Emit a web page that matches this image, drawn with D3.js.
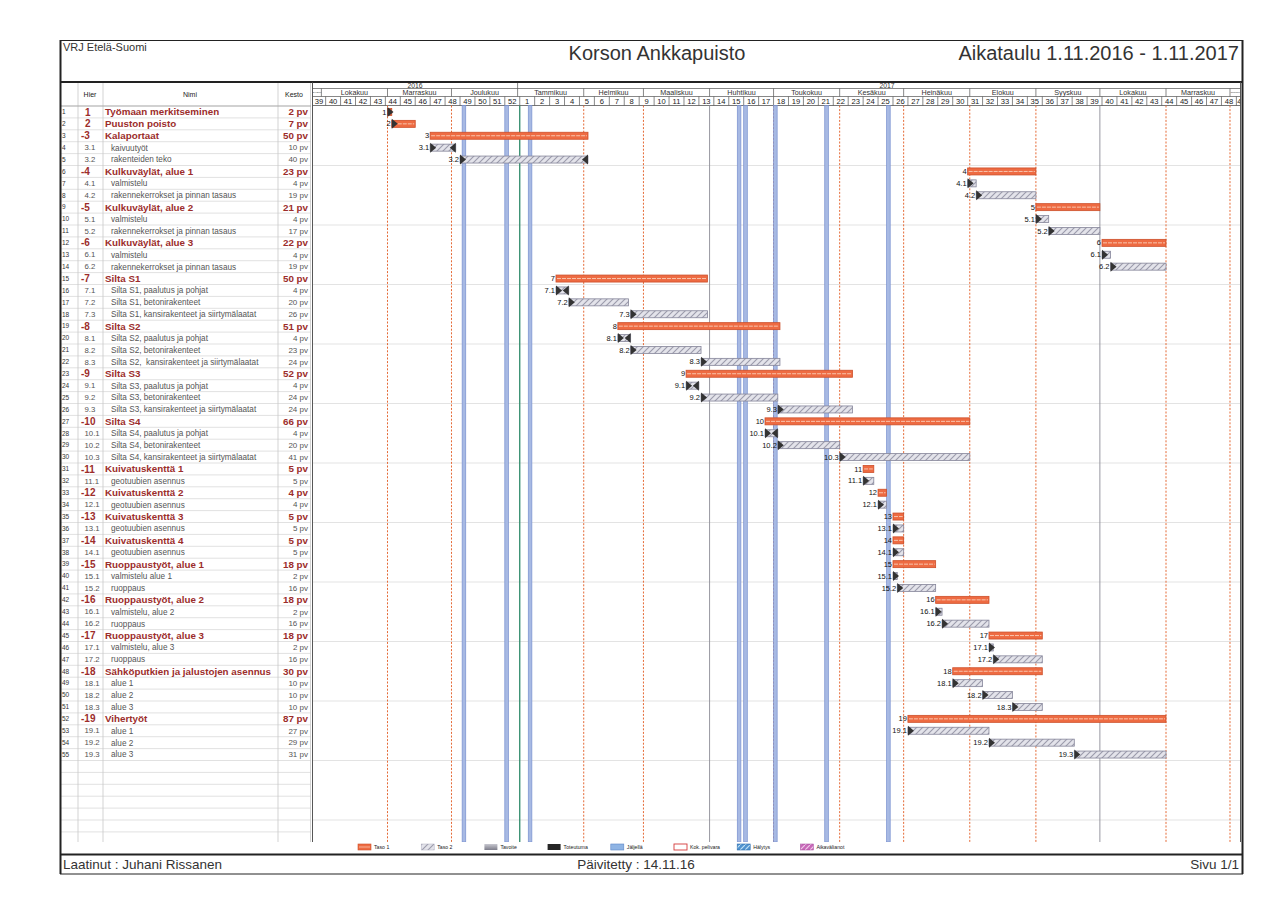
<!DOCTYPE html>
<html><head><meta charset="utf-8">
<script src="https://cdn.jsdelivr.net/npm/d3@7"></script>
<style>body{margin:0;background:#fff;} svg{display:block;font-family:"Liberation Sans",Arial,sans-serif;}</style>
</head><body><svg id="c" width="1281" height="897"></svg>
<script>
// ---------------- DATA ----------------
const rowIds = ["1","2","-3","3.1","3.2","-4","4.1","4.2","-5","5.1","5.2","-6","6.1","6.2","-7","7.1","7.2","7.3","-8","8.1","8.2","8.3","-9","9.1","9.2","9.3","-10","10.1","10.2","10.3","-11","11.1","-12","12.1","-13","13.1","-14","14.1","-15","15.1","15.2","-16","16.1","16.2","-17","17.1","17.2","-18","18.1","18.2","18.3","-19","19.1","19.2","19.3"];
const taskNames = ["Työmaan merkitseminen","Puuston poisto","Kalaportaat","kaivuutyöt","rakenteiden teko","Kulkuväylät, alue 1","valmistelu","rakennekerrokset ja pinnan tasaus","Kulkuväylät, alue 2","valmistelu","rakennekerrokset ja pinnan tasaus","Kulkuväylät, alue 3","valmistelu","rakennekerrokset ja pinnan tasaus","Silta S1","Silta S1, paalutus ja pohjat","Silta S1, betonirakenteet","Silta S1, kansirakenteet ja siirtymälaatat","Silta S2","Silta S2, paalutus ja pohjat","Silta S2, betonirakenteet","Silta S2,  kansirakenteet ja siirtymälaatat","Silta S3","Silta S3, paalutus ja pohjat","Silta S3, betonirakenteet","Silta S3, kansirakenteet ja siirtymälaatat","Silta S4","Silta S4, paalutus ja pohjat","Silta S4, betonirakenteet","Silta S4, kansirakenteet ja siirtymälaatat","Kuivatuskenttä 1","geotuubien asennus","Kuivatuskenttä 2","geotuubien asennus","Kuivatuskenttä 3","geotuubien asennus","Kuivatuskenttä 4","geotuubien asennus","Ruoppaustyöt, alue 1","valmistelu alue 1","ruoppaus","Ruoppaustyöt, alue 2","valmistelu, alue 2","ruoppaus","Ruoppaustyöt, alue 3","valmistelu, alue 3","ruoppaus","Sähköputkien ja jalustojen asennus","alue 1","alue 2","alue 3","Vihertyöt","alue 1","alue 2","alue 3"];
const durations = ["2 pv","7 pv","50 pv","10 pv","40 pv","23 pv","4 pv","19 pv","21 pv","4 pv","17 pv","22 pv","4 pv","19 pv","50 pv","4 pv","20 pv","26 pv","51 pv","4 pv","23 pv","24 pv","52 pv","4 pv","24 pv","24 pv","66 pv","4 pv","20 pv","41 pv","5 pv","5 pv","4 pv","4 pv","5 pv","5 pv","5 pv","5 pv","18 pv","2 pv","16 pv","18 pv","2 pv","16 pv","18 pv","2 pv","16 pv","30 pv","10 pv","10 pv","10 pv","87 pv","27 pv","29 pv","31 pv"];
const startDates = ["2016-11-01","2016-11-03","2016-11-21","2016-11-21","2016-12-05","2017-07-31","2017-07-31","2017-08-04","2017-09-01","2017-09-01","2017-09-07","2017-10-02","2017-10-02","2017-10-06","2017-01-19","2017-01-19","2017-01-25","2017-02-23","2017-02-17","2017-02-17","2017-02-23","2017-03-28","2017-03-21","2017-03-21","2017-03-28","2017-05-03","2017-04-27","2017-04-27","2017-05-03","2017-06-01","2017-06-12","2017-06-12","2017-06-19","2017-06-19","2017-06-26","2017-06-26","2017-06-26","2017-06-26","2017-06-26","2017-06-26","2017-06-28","2017-07-16","2017-07-16","2017-07-19","2017-08-10","2017-08-10","2017-08-12","2017-07-24","2017-07-24","2017-08-07","2017-08-21","2017-07-03","2017-07-03","2017-08-10","2017-09-19"];
const endDates = ["2016-11-03","2016-11-14","2017-02-03","2016-12-03","2017-02-03","2017-09-01","2017-08-04","2017-09-01","2017-10-01","2017-09-07","2017-10-01","2017-11-01","2017-10-06","2017-11-01","2017-03-31","2017-01-25","2017-02-22","2017-03-31","2017-05-04","2017-02-23","2017-03-28","2017-05-04","2017-06-07","2017-03-27","2017-05-03","2017-06-07","2017-08-01","2017-05-03","2017-06-01","2017-08-01","2017-06-17","2017-06-17","2017-06-23","2017-06-23","2017-07-01","2017-07-01","2017-07-01","2017-07-01","2017-07-16","2017-06-28","2017-07-16","2017-08-10","2017-07-19","2017-08-10","2017-09-04","2017-08-12","2017-09-04","2017-09-04","2017-08-07","2017-08-21","2017-09-04","2017-11-01","2017-08-10","2017-09-19","2017-11-01"];
const endMarkers = ["3.1","3.2","7.1","8.1","9.1","10.1"];
const holidays = ["2016-12-06","2016-12-26","2017-01-06","2017-04-14","2017-04-17","2017-05-01","2017-05-25","2017-06-23"];
const orangeLineDates = ["2016-11-01","2016-12-01","2017-02-01","2017-03-01","2017-05-01","2017-06-01","2017-07-01","2017-08-01","2017-09-01","2017-11-01","2017-12-01"];
const grayLineDates = ["2017-04-01","2017-10-01"];
const greenLineDate = "2017-01-02";
const monthNames = ["Tammikuu","Helmikuu","Maaliskuu","Huhtikuu","Toukokuu","Kesäkuu","Heinäkuu","Elokuu","Syyskuu","Lokakuu","Marraskuu","Joulukuu"];
const legendLabels = ["Taso 1","Taso 2","Tavoite","Toteutuma","Jäljellä","Kok. pelivara","Hälytys","Aikavälianot"];
const tableHeaders = ["Hier","Nimi","Kesto"];

// ---------------- LAYOUT ----------------
const W=1281,H=897;
const P = d3.utcParse("%Y-%m-%d");
const x = d3.scaleUtc().domain([P("2016-11-01"), P("2017-11-01")]).range([387.5,1166]);
const gx0=312.5, gx1=1240.5;
const boxL=60, boxR=1243, top0=40, hdrTop=82, rowTop=106, rowH=11.9, gBottom=842, footLine=854.5, bottom=874;
const nRows = Math.floor((gBottom-rowTop)/rowH);
const y = d3.scaleBand().domain(d3.range(nRows)).range([rowTop, rowTop+nRows*rowH]).padding(0);

const svg=d3.select("#c");
svg.append("rect").attr("width",W).attr("height",H).attr("fill","#fff");
const defs=svg.append("defs");
defs.append("clipPath").attr("id","gclip").append("rect").attr("x",gx0).attr("y",hdrTop).attr("width",gx1-gx0).attr("height",gBottom-hdrTop);
const hatch=defs.append("pattern").attr("id","hatch").attr("patternUnits","userSpaceOnUse").attr("width",6).attr("height",6);
hatch.append("rect").attr("width",6).attr("height",6).attr("fill","#e3e3ea");
hatch.append("path").attr("d","M-1,7 L7,-1 M-1,1 L1,-1 M5,7 L7,5").attr("stroke","#9b9bab").attr("stroke-width",1.1);
const hatchB=defs.append("pattern").attr("id","hatchB").attr("patternUnits","userSpaceOnUse").attr("width",5).attr("height",5);
hatchB.append("rect").attr("width",5).attr("height",5).attr("fill","#4f92cf");
hatchB.append("path").attr("d","M-1,6 L6,-1").attr("stroke","#bfe0f5").attr("stroke-width",1.2);
const hatchP=defs.append("pattern").attr("id","hatchP").attr("patternUnits","userSpaceOnUse").attr("width",5).attr("height",5);
hatchP.append("rect").attr("width",5).attr("height",5).attr("fill","#c868b8");
hatchP.append("path").attr("d","M-1,6 L6,-1").attr("stroke","#f0c8ea").attr("stroke-width",1.2);
const gradT=defs.append("linearGradient").attr("id","gradT").attr("x1",0).attr("x2",0).attr("y1",0).attr("y2",1);
gradT.append("stop").attr("offset",0).attr("stop-color","#c8c8d0");
gradT.append("stop").attr("offset",1).attr("stop-color","#7d7d8a");

// ---------------- TITLES ----------------
svg.append("text").attr("x",63).attr("y",51).attr("font-size",11).attr("fill","#333").text("VRJ Etelä-Suomi");
svg.append("text").attr("x",657).attr("y",60).attr("text-anchor","middle").attr("font-size",20).attr("fill","#333").text("Korson Ankkapuisto");
svg.append("text").attr("x",1239).attr("y",60).attr("text-anchor","end").attr("font-size",20).attr("fill","#333").text("Aikataulu 1.11.2016 - 1.11.2017");
svg.append("text").attr("x",63).attr("y",869).attr("font-size",13.5).attr("fill","#333").text("Laatinut : Juhani Rissanen");
svg.append("text").attr("x",636).attr("y",869).attr("text-anchor","middle").attr("font-size",13.5).attr("fill","#333").text("Päivitetty : 14.11.16");
svg.append("text").attr("x",1239).attr("y",869).attr("text-anchor","end").attr("font-size",13.5).attr("fill","#333").text("Sivu 1/1");

// ---------------- TABLE ----------------
const tbl=svg.append("g");
for(let i=0;i<=nRows;i++){
  tbl.append("line").attr("x1",boxL).attr("x2",311).attr("y1",y(0)+i*rowH).attr("y2",y(0)+i*rowH).attr("stroke","#d4d4d4").attr("stroke-width",0.7);
}
[78,103,278,310.5].forEach(cx=>tbl.append("line").attr("x1",cx).attr("x2",cx).attr("y1",hdrTop).attr("y2",gBottom).attr("stroke","#c8c8c8").attr("stroke-width",0.8));
[[90,tableHeaders[0]],[190,tableHeaders[1]],[294,tableHeaders[2]]].forEach(([cx,t])=>tbl.append("text").attr("x",cx).attr("y",97).attr("text-anchor","middle").attr("font-size",7).attr("fill","#222").text(t));
tbl.append("line").attr("x1",boxL).attr("x2",311).attr("y1",rowTop).attr("y2",rowTop).attr("stroke","#999").attr("stroke-width",0.7);

const RED="#9c2d2b";
rowIds.forEach((id,i)=>{
  const lvl1 = !id.includes(".");
  const yc = y(i)+rowH/2;
  tbl.append("text").attr("x",62).attr("y",yc).attr("dy","0.35em").attr("font-size",6.5).attr("fill","#333").text(i+1);
  if(lvl1){
    tbl.append("text").attr("x",id.startsWith("-")?81:85).attr("y",yc).attr("dy","0.36em").attr("font-size",10).attr("font-weight","bold").attr("fill",RED).text(id);
    tbl.append("text").attr("x",105).attr("y",yc).attr("dy","0.36em").attr("font-size",9.8).attr("font-weight","bold").attr("fill",RED).text(taskNames[i]);
    tbl.append("text").attr("x",308).attr("y",yc).attr("dy","0.36em").attr("text-anchor","end").attr("font-size",9.8).attr("font-weight","bold").attr("fill",RED).text(durations[i]);
  } else {
    tbl.append("text").attr("x",84.5).attr("y",yc).attr("dy","0.35em").attr("font-size",7.8).attr("fill","#555").text(id);
    tbl.append("text").attr("x",111).attr("y",yc).attr("dy","0.35em").attr("font-size",8.2).attr("fill","#555").style("white-space","pre").text(taskNames[i]);
    tbl.append("text").attr("x",308).attr("y",yc).attr("dy","0.35em").attr("text-anchor","end").attr("font-size",8).attr("fill","#555").text(durations[i]);
  }
});

// ---------------- GANTT HEADER ----------------
const gh=svg.append("g").attr("clip-path","url(#gclip)");
const yrTop=hdrTop, yrBot=88.5, moBot=96.5, wkBot=105.5;
const dStart=x.invert(gx0), dEnd=x.invert(gx1);
d3.utcYear.range(d3.utcYear.floor(dStart), dEnd).forEach(yv=>{
  const a=Math.max(gx0,x(yv)), b=Math.min(gx1,x(d3.utcYear.offset(yv,1)));
  gh.append("line").attr("x1",a).attr("x2",a).attr("y1",yrTop).attr("y2",yrBot).attr("stroke","#555").attr("stroke-width",0.7);
  gh.append("text").attr("x",(a+b)/2 + (yv.getUTCFullYear()===2017?8:0)).attr("y",yrBot-0.8).attr("text-anchor","middle").attr("font-size",6.8).attr("fill","#333").text(yv.getUTCFullYear());
});
gh.append("line").attr("x1",gx0).attr("x2",gx1).attr("y1",yrBot).attr("y2",yrBot).attr("stroke","#555").attr("stroke-width",0.7);
gh.append("line").attr("x1",gx0).attr("x2",gx1).attr("y1",moBot).attr("y2",moBot).attr("stroke","#555").attr("stroke-width",0.7);
gh.append("line").attr("x1",gx0).attr("x2",gx1).attr("y1",wkBot).attr("y2",wkBot).attr("stroke","#555").attr("stroke-width",0.8);
d3.utcMonth.range(d3.utcMonth.floor(dStart), dEnd).forEach(m=>{
  const a=Math.max(gx0,x(m)), b=Math.min(gx1,x(d3.utcMonth.offset(m,1)));
  if(b<=a) return;
  gh.append("line").attr("x1",x(m)).attr("x2",x(m)).attr("y1",yrBot).attr("y2",moBot).attr("stroke","#555").attr("stroke-width",0.7);
  const name=monthNames[m.getUTCMonth()];
  const w=b-a;
  const fs = w>40 ? 7.2 : Math.max(2.2, w/(name.length*0.55));
  gh.append("text").attr("x",(a+b)/2).attr("y",(yrBot+moBot)/2).attr("dy","0.36em").attr("text-anchor","middle").attr("font-size",fs).attr("fill","#333").text(name);
});
const fmtW=d3.utcFormat("%-V");
d3.utcMonday.range(d3.utcMonday.floor(dStart), dEnd).forEach(wk=>{
  const a=Math.max(gx0,x(wk)), b=Math.min(gx1+6,x(d3.utcMonday.offset(wk,1)));
  gh.append("line").attr("x1",x(wk)).attr("x2",x(wk)).attr("y1",moBot).attr("y2",wkBot).attr("stroke","#555").attr("stroke-width",0.7);
  gh.append("text").attr("x",(a+b)/2).attr("y",(moBot+wkBot)/2).attr("dy","0.36em").attr("text-anchor","middle").attr("font-size",7.6).attr("fill","#222").text(fmtW(wk));
});

// ---------------- GANTT BODY ----------------
const gb=svg.append("g").attr("clip-path","url(#gclip)");
for(let i=5;i<nRows;i+=5){
  gb.append("line").attr("x1",gx0).attr("x2",gx1).attr("y1",y(i)).attr("y2",y(i)).attr("stroke","#dcdcdc").attr("stroke-width",0.8);
}
orangeLineDates.forEach(d=>gb.append("line").attr("x1",x(P(d))).attr("x2",x(P(d))).attr("y1",wkBot).attr("y2",gBottom).attr("stroke","#e56a36").attr("stroke-width",1).attr("stroke-dasharray","2,1.6"));
grayLineDates.forEach(d=>gb.append("line").attr("x1",x(P(d))).attr("x2",x(P(d))).attr("y1",wkBot).attr("y2",gBottom).attr("stroke","#8c8c96").attr("stroke-width",0.9));
holidays.forEach(d=>{
  const a=x(P(d));
  gb.append("rect").attr("x",a).attr("y",wkBot).attr("width",3.6).attr("height",gBottom-wkBot).attr("fill","#a7b9e3").attr("stroke","#7890cf").attr("stroke-width",0.7);
});
gb.append("line").attr("x1",x(P(greenLineDate))).attr("x2",x(P(greenLineDate))).attr("y1",wkBot).attr("y2",gBottom).attr("stroke","#2f8a6a").attr("stroke-width",1.3);

rowIds.forEach((id,i)=>{
  const lvl1=!id.includes(".");
  const parent=id.startsWith("-");
  const x0=x(P(startDates[i])), x1=x(P(endDates[i]));
  const yc=y(i)+rowH/2, bh=7;
  if(lvl1){
    gb.append("rect").attr("x",x0).attr("y",yc-bh/2).attr("width",x1-x0).attr("height",bh).attr("fill","#ee6b42").attr("stroke","#cc4f2a").attr("stroke-width",0.8);
    gb.append("line").attr("x1",x0+1).attr("x2",x1-1).attr("y1",yc).attr("y2",yc).attr("stroke","#f8c4ad").attr("stroke-width",1).attr("stroke-dasharray","4,1");
  } else {
    gb.append("rect").attr("x",x0).attr("y",yc-bh/2).attr("width",x1-x0).attr("height",bh).attr("fill","url(#hatch)").attr("stroke","#85859a").attr("stroke-width",0.8);
  }
  if(!parent){
    gb.append("path").attr("d",`M${x0},${yc-5}L${x0+6},${yc}L${x0},${yc+5}Z`).attr("fill","#333");
  }
  if(endMarkers.includes(id)){
    gb.append("path").attr("d",`M${x1},${yc-5}L${x1-6},${yc}L${x1},${yc+5}Z`).attr("fill","#333");
  }
  gb.append("text").attr("x",x0-1).attr("y",yc).attr("dy","0.35em").attr("text-anchor","end").attr("font-size",7.5).attr("fill","#111").text(id.replace("-",""));
});

// ---------------- LEGEND ----------------
const lg=svg.append("g");
legendLabels.forEach((t,k)=>{
  const lx=358+k*63.2, ly=844;
  const r=lg.append("rect").attr("x",lx).attr("y",ly).attr("width",13).attr("height",6);
  if(k===0){ r.attr("fill","#ee6b42").attr("stroke","#cc4f2a").attr("stroke-width",0.6);
    lg.append("line").attr("x1",lx+1).attr("x2",lx+12).attr("y1",ly+3).attr("y2",ly+3).attr("stroke","#f8c4ad").attr("stroke-width",0.8); }
  else if(k===1) r.attr("fill","url(#hatch)").attr("stroke","#b0b0c0").attr("stroke-width",0.5);
  else if(k===2) r.attr("fill","url(#gradT)");
  else if(k===3) r.attr("fill","#262626");
  else if(k===4) r.attr("fill","#8fb4e4").attr("stroke","#5d86c6").attr("stroke-width",0.6);
  else if(k===5) r.attr("fill","#fff").attr("stroke","#d43a3a").attr("stroke-width",0.9);
  else if(k===6) r.attr("fill","url(#hatchB)").attr("stroke","#2f6fae").attr("stroke-width",0.6);
  else r.attr("fill","url(#hatchP)").attr("stroke","#a0489a").attr("stroke-width",0.5);
  lg.append("text").attr("x",lx+16).attr("y",ly+3).attr("dy","0.35em").attr("font-size",5.2).attr("fill","#222").text(t);
});

// ---------------- FRAME ----------------
const fr=svg.append("g").attr("stroke","#222").attr("fill","none");
fr.append("line").attr("x1",boxL).attr("x2",boxR).attr("y1",top0+0.5).attr("y2",top0+0.5).attr("stroke-width",1);
fr.append("line").attr("x1",boxL).attr("x2",boxR).attr("y1",hdrTop).attr("y2",hdrTop).attr("stroke-width",2);
fr.append("line").attr("x1",boxL).attr("x2",boxR).attr("y1",footLine).attr("y2",footLine).attr("stroke-width",2);
fr.append("line").attr("x1",boxL).attr("x2",boxR).attr("y1",bottom).attr("y2",bottom).attr("stroke-width",1);
fr.append("line").attr("x1",boxL+0.5).attr("x2",boxL+0.5).attr("y1",top0).attr("y2",bottom).attr("stroke-width",2);
fr.append("line").attr("x1",boxR-0.5).attr("x2",boxR-0.5).attr("y1",top0).attr("y2",bottom).attr("stroke-width",2);
fr.append("line").attr("x1",gx0).attr("x2",gx0).attr("y1",hdrTop).attr("y2",gBottom).attr("stroke","#444").attr("stroke-width",0.9);
fr.append("line").attr("x1",gx1).attr("x2",gx1).attr("y1",hdrTop).attr("y2",gBottom).attr("stroke","#444").attr("stroke-width",0.9);
</script>
</body></html>
